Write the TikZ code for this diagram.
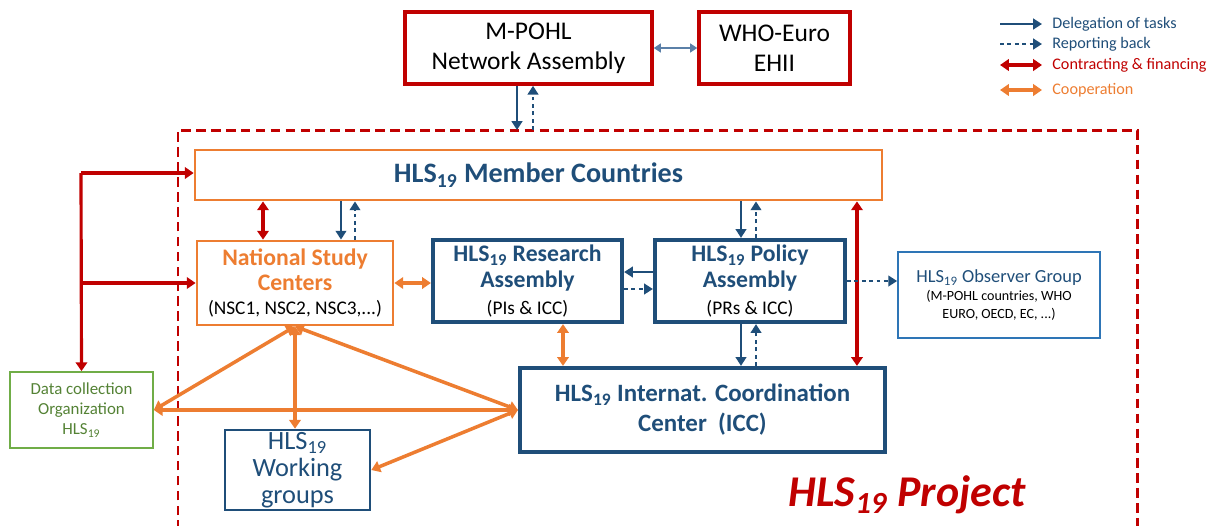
\documentclass[tikz,border=0pt]{standalone}
\usepackage{fontspec}
\setmainfont{Carlito}
\usepackage{tikz}
\usetikzlibrary{arrows.meta}

\definecolor{hlsred}{HTML}{C00000}
\definecolor{hlsorange}{HTML}{ED7D31}
\definecolor{hlsblue}{HTML}{1F4E79}
\definecolor{hlssteel}{HTML}{5B80A8}
\definecolor{hlsmid}{HTML}{2E75B6}
\definecolor{hlsgreen}{HTML}{70AD47}
\definecolor{hlsgreentext}{HTML}{548235}
\newcommand{\hls}{HLS\textsubscript{19}}
\newcommand{\fsz}[2]{\fontsize{#1}{#2}\selectfont}

\begin{document}
\begin{tikzpicture}[x=0.02cm, y=-0.02cm,
  box/.style={draw, rectangle, align=center, inner sep=1pt},
  netbox/.style={box, draw=hlsred, line width=2pt, minimum height=1.44cm, font=\fsz{14.5}{17}},
  orgbox/.style={box, draw=hlsorange, line width=1.6pt},
  bluebox/.style={box, draw=hlsblue, line width=2.4pt, text=hlsblue},
  deleg/.style={draw=hlsblue, line width=1.6pt, -{Triangle[length=5pt, width=6pt]}},
  report/.style={deleg, dash pattern=on 2.2pt off 2pt},
  contract/.style={draw=hlsred, line width=1.8pt, -{Triangle[length=5pt, width=6.5pt]}},
  contract2/.style={contract, {Triangle[length=5pt, width=6.5pt]}-{Triangle[length=5pt, width=6.5pt]}},
  coop/.style={draw=hlsorange, line width=2pt, {Triangle[length=5pt, width=6.5pt]}-{Triangle[length=5pt, width=6.5pt]}},
  legtext/.style={anchor=west, inner sep=0pt, font=\fsz{9.2}{10}}
]
\useasboundingbox (0,0) rectangle (1213,525);

% project frame, runs off the bottom edge
\coordinate (prjtl) at (178,130);
\draw[hlsred, line width=1.7pt, dash pattern=on 5.5pt off 3pt] (178,560) -- (prjtl) -- (1137,130) -- (1137,560);
\node[text=hlsred, font=\fsz{25}{28}\bfseries\itshape] (prj) at (907,495) {\hls\ Project};

% network level
\node[netbox, minimum width=4.94cm] (mpohl) at (528.5,48) {M-POHL\\Network Assembly};
\node[netbox, minimum width=3.02cm] (who) at (774.5,48) {WHO-Euro\\EHII};
\draw[draw=hlssteel, line width=1pt, {Triangle[length=4pt, width=5pt]}-{Triangle[length=4pt, width=5pt]}] (mpohl.east) -- (who.west);
\draw[deleg] ([xshift=-0.23cm]mpohl.south) -- ([xshift=-0.23cm]mpohl.south |- prjtl);
\draw[report] ([xshift=0.09cm]mpohl.south |- prjtl) -- ([xshift=0.09cm]mpohl.south);

% legend
\node[legtext, text=hlsblue] (lg1) at (1052,24) {Delegation of tasks};
\node[legtext, text=hlsblue] (lg2) at (1052,44) {Reporting back};
\node[legtext, text=hlsred] (lg3) at (1052,65) {Contracting \& financing};
\node[legtext, text=hlsorange] (lg4) at (1052,90) {Cooperation};
\draw[deleg] ([xshift=-1.04cm]lg1.west) -- ([xshift=-0.2cm]lg1.west);
\draw[report] ([xshift=-1.04cm]lg2.west) -- ([xshift=-0.2cm]lg2.west);
\draw[contract2] ([xshift=-1.04cm]lg3.west) -- ([xshift=-0.2cm]lg3.west);
\draw[coop] ([xshift=-1.04cm]lg4.west) -- ([xshift=-0.2cm]lg4.west);

% project bodies
\node[orgbox, minimum width=13.74cm, minimum height=1cm, text=hlsblue, font=\fsz{16}{18}\bfseries] (member) at (538.5,175) {\hls\ Member Countries};
\node[orgbox, minimum width=3.92cm, minimum height=1.68cm, text=hlsorange, font=\fsz{13.5}{14.2}\bfseries] (nsc) at (295,283)
  {National Study\\Centers\\{\mdseries\fsz{11}{13}\color{black}(NSC1, NSC2, NSC3,...)}};
\node[bluebox, minimum width=3.78cm, minimum height=1.64cm, font=\fsz{13.5}{15}\bfseries] (research) at (527.5,281)
  {\hls\ Research\\Assembly\\{\mdseries\fsz{11}{13}\color{black}(PIs \& ICC)}};
\node[bluebox, minimum width=3.8cm, minimum height=1.64cm, font=\fsz{13.5}{15}\bfseries] (policy) at (750,281)
  {\hls\ Policy\\Assembly\\{\mdseries\fsz{11}{13}\color{black}(PRs \& ICC)}};
\node[box, draw=hlsmid, line width=1pt, minimum width=4.04cm, minimum height=1.72cm, font=\fsz{8}{10}] (observer) at (999,295)
  {{\fsz{10.5}{11}\color{hlsblue}\hls\ Observer Group}\\(M-POHL countries, WHO\\EURO, OECD, EC, ...)};
\node[bluebox, minimum width=7.3cm, minimum height=1.68cm, font=\fsz{14.2}{17}\bfseries] (icc) at (702.5,410)
  {\hls\ Internat. Coordination\\Center\ \ (ICC)};
\node[box, draw=hlsblue, line width=1.5pt, text=hlsblue, minimum width=2.9cm, minimum height=1.6cm, font=\fsz{15}{15.2}] (wg) at (297.5,470)
  {\hls\\Working\\groups};
\node[box, draw=hlsgreen, line width=1pt, text=hlsgreentext, minimum width=2.86cm, minimum height=1.52cm, font=\fsz{9.6}{11.3}] (dcol) at (81.5,410)
  {Data collection\\Organization\\\hls};

% contracting from outside
\coordinate (jtop) at (81,173);
\draw[contract] (jtop) -- (dcol.north);
\draw[contract] (jtop) -- (jtop -| member.west);
\draw[contract] (jtop |- nsc.west) -- (nsc.west);
\draw[contract2] ([xshift=-0.64cm]nsc.north |- member.south) -- ([xshift=-0.64cm]nsc.north);
\draw[contract2] ([xshift=3.09cm]icc.north |- member.south) -- ([xshift=3.09cm]icc.north);

% delegation and reporting
\draw[deleg] ([xshift=0.92cm]nsc.north |- member.south) -- ([xshift=0.92cm]nsc.north);
\draw[report] ([xshift=1.2cm]nsc.north) -- ([xshift=1.2cm]nsc.north |- member.south);
\draw[deleg] ([xshift=-0.18cm]policy.north |- member.south) -- ([xshift=-0.18cm]policy.north);
\draw[report] ([xshift=0.12cm]policy.north) -- ([xshift=0.12cm]policy.north |- member.south);
\draw[deleg] ([xshift=-0.18cm]policy.south) -- ([xshift=-0.18cm]policy.south |- icc.north);
\draw[report] ([xshift=0.12cm]policy.south |- icc.north) -- ([xshift=0.12cm]policy.south);
\draw[deleg] ([yshift=0.18cm]policy.west) -- ([yshift=0.18cm]policy.west -| research.east);
\draw[report] ([yshift=-0.16cm]policy.west -| research.east) -- ([yshift=-0.16cm]policy.west);
\draw[report, line width=1.2pt] (policy.east) -- (policy.east -| observer.west);

% cooperation
\draw[coop] (nsc.east) -- (nsc.east -| research.west);
\draw[coop] ([xshift=0.71cm]research.south) -- ([xshift=0.71cm]research.south |- icc.north);
\draw[coop] (nsc.south) -- (dcol.east);
\draw[coop] (nsc.south) -- (nsc.south |- wg.north);
\draw[coop] (nsc.south) -- (icc.west);
\draw[coop] (dcol.east) -- (icc.west);
\draw[coop] (icc.west) -- (wg.east);
\end{tikzpicture}
\end{document}
